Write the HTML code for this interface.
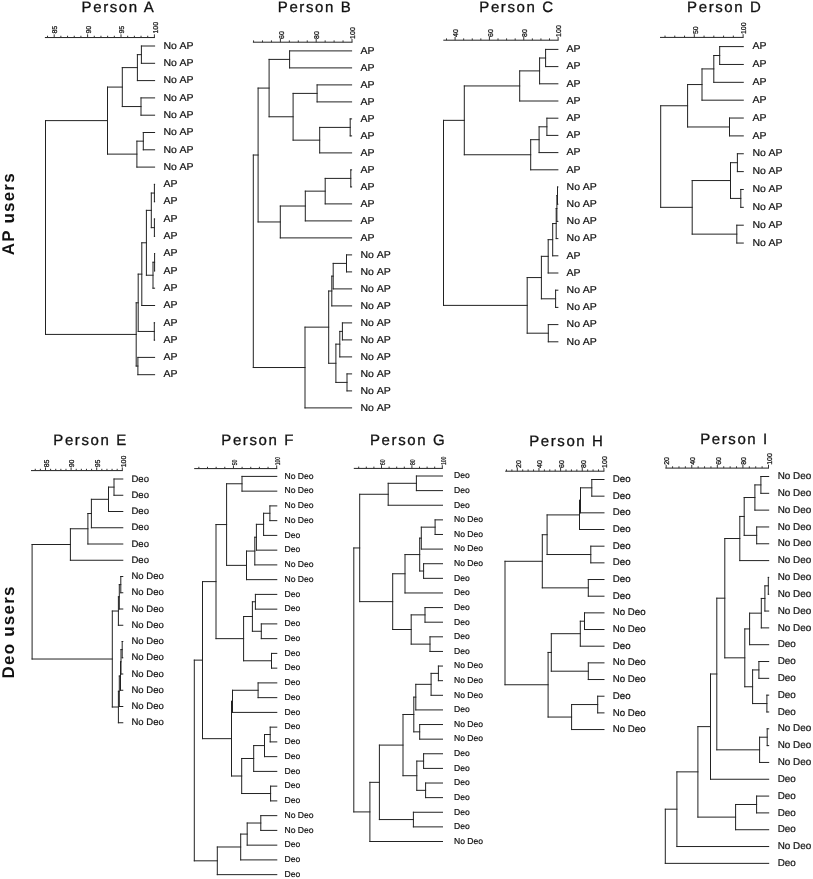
<!DOCTYPE html>
<html><head><meta charset="utf-8"><style>
html,body{margin:0;padding:0;background:#fff;}
svg{display:block;will-change:transform;}
text{font-family:"Liberation Sans",sans-serif;fill:#111;text-rendering:geometricPrecision;}
path{stroke:#222;stroke-width:1.0;fill:none;stroke-linecap:square;}
.tk{stroke:#333;stroke-linecap:butt;}
.ax text{stroke:#111;stroke-width:0.25px;}
.lab text{stroke:#111;stroke-width:0.2px;}
.tt{font-size:15px;letter-spacing:1.6px;stroke:#111;stroke-width:0.3px;}
.side{font-size:17px;font-weight:bold;letter-spacing:1.2px;}
</style></head><body>
<svg width="813" height="879" viewBox="0 0 813 879">
<rect width="813" height="879" fill="#fff"/>
<path d="M141.4 46H154.6M141.4 63.3H154.6M141.4 46V63.3M137.4 54.65H141.4M137.4 80.6H154.6M137.4 54.65V80.6M122.3 67.62H137.4M141 97.9H154.6M141 115.2H154.6M141 97.9V115.2M122.3 106.55H141M122.3 67.62V106.55M107.5 87.09H122.3M143.3 132.5H154.6M143.3 149.8H154.6M143.3 132.5V149.8M136.9 141.15H143.3M136.9 167.1H154.6M136.9 141.15V167.1M107.5 154.12H136.9M107.5 87.09V154.12M45.5 120.61H107.5M154.4 184.4H154.6M154.4 201.7H154.6M154.4 184.4V201.7M151.3 193.05H154.4M154.4 219H154.6M154.4 236.3H154.6M154.4 219V236.3M151.3 227.65H154.4M151.3 193.05V227.65M146.4 210.35H151.3M154.6 253.6V253.6M154.6 270.9V270.9M154.6 253.6V270.9M153 262.25H154.6M153 288.2H154.6M153 262.25V288.2M146.4 275.23H153M146.4 210.35V275.23M141.8 242.79H146.4M141.8 305.5H154.6M141.8 242.79V305.5M138.2 274.14H141.8M154.3 322.8H154.6M154.3 340.1H154.6M154.3 322.8V340.1M138.2 331.45H154.3M138.2 274.14V331.45M136.2 302.8H138.2M137.9 357.4H154.6M137.9 374.7H154.6M137.9 357.4V374.7M136.2 366.05H137.9M136.2 302.8V366.05M45.5 334.42H136.2M45.5 120.61V334.42M45.4 37.55H154.4"/>
<path class="tk" d="M47.52 37.55V35.75M54.2 37.55V34.35M60.88 37.55V35.75M67.56 37.55V35.75M74.24 37.55V35.75M80.92 37.55V35.75M87.6 37.55V34.35M94.28 37.55V35.75M100.96 37.55V35.75M107.64 37.55V35.75M114.32 37.55V35.75M121 37.55V34.35M127.68 37.55V35.75M134.36 37.55V35.75M141.04 37.55V35.75M147.72 37.55V35.75M154.4 37.55V34.35"/>
<g class="lab" font-size="10" word-spacing="0.4"><text transform="translate(163.4 48.7) scale(1.05 1)">No AP</text><text transform="translate(163.4 66) scale(1.05 1)">No AP</text><text transform="translate(163.4 83.3) scale(1.05 1)">No AP</text><text transform="translate(163.4 100.6) scale(1.05 1)">No AP</text><text transform="translate(163.4 117.9) scale(1.05 1)">No AP</text><text transform="translate(163.4 135.2) scale(1.05 1)">No AP</text><text transform="translate(163.4 152.5) scale(1.05 1)">No AP</text><text transform="translate(163.4 169.8) scale(1.05 1)">No AP</text><text transform="translate(163.4 187.1) scale(1.05 1)">AP</text><text transform="translate(163.4 204.4) scale(1.05 1)">AP</text><text transform="translate(163.4 221.7) scale(1.05 1)">AP</text><text transform="translate(163.4 239) scale(1.05 1)">AP</text><text transform="translate(163.4 256.3) scale(1.05 1)">AP</text><text transform="translate(163.4 273.6) scale(1.05 1)">AP</text><text transform="translate(163.4 290.9) scale(1.05 1)">AP</text><text transform="translate(163.4 308.2) scale(1.05 1)">AP</text><text transform="translate(163.4 325.5) scale(1.05 1)">AP</text><text transform="translate(163.4 342.8) scale(1.05 1)">AP</text><text transform="translate(163.4 360.1) scale(1.05 1)">AP</text><text transform="translate(163.4 377.4) scale(1.05 1)">AP</text></g>
<g class="ax" font-size="7"><text transform="translate(57.46 33.55) rotate(-90) scale(1 1)" x="0" y="0">85</text><text transform="translate(90.86 33.55) rotate(-90) scale(1 1)" x="0" y="0">90</text><text transform="translate(124.26 33.55) rotate(-90) scale(1 1)" x="0" y="0">95</text><text transform="translate(157.66 33.55) rotate(-90) scale(1 1)" x="0" y="0">100</text></g>
<text class="tt" x="81.6" y="12.4">Person A</text>
<path d="M289.6 50.9H351.6M289.6 67.9H351.6M289.6 50.9V67.9M269.1 59.4H289.6M317.1 84.9H351.6M317.1 101.9H351.6M317.1 84.9V101.9M293.1 93.4H317.1M350.2 118.9H351.6M350.2 135.9H351.6M350.2 118.9V135.9M319.7 127.4H350.2M319.7 152.9H351.6M319.7 127.4V152.9M293.1 140.15H319.7M293.1 93.4V140.15M269.1 116.78H293.1M269.1 59.4V116.78M258.1 88.09H269.1M350.8 169.9H351.6M350.8 186.9H351.6M350.8 169.9V186.9M325.2 178.4H350.8M325.2 203.9H351.6M325.2 178.4V203.9M305.3 191.15H325.2M305.3 220.9H351.6M305.3 191.15V220.9M280.3 206.03H305.3M280.3 237.9H351.6M280.3 206.03V237.9M258.1 221.96H280.3M258.1 88.09V221.96M253.3 155.03H258.1M346.5 254.9H351.6M346.5 271.9H351.6M346.5 254.9V271.9M333.2 263.4H346.5M333.2 288.9H351.6M333.2 263.4V288.9M331.8 276.15H333.2M331.8 305.9H351.6M331.8 276.15V305.9M328.7 291.02H331.8M342.4 322.9H351.6M342.4 339.9H351.6M342.4 322.9V339.9M339.8 331.4H342.4M339.8 356.9H351.6M339.8 331.4V356.9M335.9 344.15H339.8M347 373.9H351.6M347 390.9H351.6M347 373.9V390.9M335.9 382.4H347M335.9 344.15V382.4M328.7 363.27H335.9M328.7 291.02V363.27M305 327.15H328.7M305 407.9H351.6M305 327.15V407.9M253.3 367.52H305M253.3 155.03V367.52M253.4 42.2H352"/>
<path class="tk" d="M253.55 42.2V40.4M262.5 42.2V40.4M271.45 42.2V40.4M280.4 42.2V39M289.35 42.2V40.4M298.3 42.2V40.4M307.25 42.2V40.4M316.2 42.2V39M325.15 42.2V40.4M334.1 42.2V40.4M343.05 42.2V40.4M352 42.2V39"/>
<g class="lab" font-size="10" word-spacing="0.4"><text transform="translate(360.5 53.6) scale(1.05 1)">AP</text><text transform="translate(360.5 70.6) scale(1.05 1)">AP</text><text transform="translate(360.5 87.6) scale(1.05 1)">AP</text><text transform="translate(360.5 104.6) scale(1.05 1)">AP</text><text transform="translate(360.5 121.6) scale(1.05 1)">AP</text><text transform="translate(360.5 138.6) scale(1.05 1)">AP</text><text transform="translate(360.5 155.6) scale(1.05 1)">AP</text><text transform="translate(360.5 172.6) scale(1.05 1)">AP</text><text transform="translate(360.5 189.6) scale(1.05 1)">AP</text><text transform="translate(360.5 206.6) scale(1.05 1)">AP</text><text transform="translate(360.5 223.6) scale(1.05 1)">AP</text><text transform="translate(360.5 240.6) scale(1.05 1)">AP</text><text transform="translate(360.5 257.6) scale(1.05 1)">No AP</text><text transform="translate(360.5 274.6) scale(1.05 1)">No AP</text><text transform="translate(360.5 291.6) scale(1.05 1)">No AP</text><text transform="translate(360.5 308.6) scale(1.05 1)">No AP</text><text transform="translate(360.5 325.6) scale(1.05 1)">No AP</text><text transform="translate(360.5 342.6) scale(1.05 1)">No AP</text><text transform="translate(360.5 359.6) scale(1.05 1)">No AP</text><text transform="translate(360.5 376.6) scale(1.05 1)">No AP</text><text transform="translate(360.5 393.6) scale(1.05 1)">No AP</text><text transform="translate(360.5 410.6) scale(1.05 1)">No AP</text></g>
<g class="ax" font-size="7"><text transform="translate(283.66 38.9) rotate(-90) scale(1 1)" x="0" y="0">60</text><text transform="translate(319.46 38.9) rotate(-90) scale(1 1)" x="0" y="0">80</text><text transform="translate(355.26 38.9) rotate(-90) scale(1 1)" x="0" y="0">100</text></g>
<text class="tt" x="277.8" y="12.4">Person B</text>
<path d="M545.6 49.4H557.9M545.6 66.6H557.9M545.6 49.4V66.6M539.6 58H545.6M539.6 83.8H557.9M539.6 58V83.8M519.7 70.9H539.6M519.7 101H557.9M519.7 70.9V101M464.3 85.95H519.7M546.9 118.2H557.9M546.9 135.4H557.9M546.9 118.2V135.4M539.1 126.8H546.9M539.1 152.6H557.9M539.1 126.8V152.6M530.7 139.7H539.1M530.7 169.8H557.9M530.7 139.7V169.8M464.3 154.75H530.7M464.3 85.95V154.75M443.5 120.35H464.3M557.5 187H557.9M557.5 204.2H557.9M557.5 187V204.2M556.9 195.6H557.5M556.9 221.4H557.9M556.9 195.6V221.4M556.2 208.5H556.9M556.2 238.6H557.9M556.2 208.5V238.6M552.7 223.55H556.2M552.7 255.8H557.9M552.7 223.55V255.8M548.2 239.68H552.7M548.2 273H557.9M548.2 239.68V273M541.4 256.34H548.2M555.6 290.2H557.9M555.6 307.4H557.9M555.6 290.2V307.4M541.4 298.8H555.6M541.4 256.34V298.8M527.2 277.57H541.4M548.3 324.6H557.9M548.3 341.8H557.9M548.3 324.6V341.8M527.2 333.2H548.3M527.2 277.57V333.2M443.5 305.38H527.2M443.5 120.35V305.38M443.8 40.2H558.1"/>
<path class="tk" d="M446.5 40.2V38.4M455.08 40.2V37M463.67 40.2V38.4M472.25 40.2V38.4M480.84 40.2V38.4M489.42 40.2V37M498 40.2V38.4M506.59 40.2V38.4M515.18 40.2V38.4M523.76 40.2V37M532.35 40.2V38.4M540.93 40.2V38.4M549.51 40.2V38.4M558.1 40.2V37"/>
<g class="lab" font-size="10" word-spacing="0.4"><text transform="translate(566.6 52.1) scale(1.05 1)">AP</text><text transform="translate(566.6 69.3) scale(1.05 1)">AP</text><text transform="translate(566.6 86.5) scale(1.05 1)">AP</text><text transform="translate(566.6 103.7) scale(1.05 1)">AP</text><text transform="translate(566.6 120.9) scale(1.05 1)">AP</text><text transform="translate(566.6 138.1) scale(1.05 1)">AP</text><text transform="translate(566.6 155.3) scale(1.05 1)">AP</text><text transform="translate(566.6 172.5) scale(1.05 1)">AP</text><text transform="translate(566.6 189.7) scale(1.05 1)">No AP</text><text transform="translate(566.6 206.9) scale(1.05 1)">No AP</text><text transform="translate(566.6 224.1) scale(1.05 1)">No AP</text><text transform="translate(566.6 241.3) scale(1.05 1)">No AP</text><text transform="translate(566.6 258.5) scale(1.05 1)">AP</text><text transform="translate(566.6 275.7) scale(1.05 1)">AP</text><text transform="translate(566.6 292.9) scale(1.05 1)">No AP</text><text transform="translate(566.6 310.1) scale(1.05 1)">No AP</text><text transform="translate(566.6 327.3) scale(1.05 1)">No AP</text><text transform="translate(566.6 344.5) scale(1.05 1)">No AP</text></g>
<g class="ax" font-size="7"><text transform="translate(458.34 36.9) rotate(-90) scale(1 1)" x="0" y="0">40</text><text transform="translate(492.68 36.9) rotate(-90) scale(1 1)" x="0" y="0">60</text><text transform="translate(527.02 36.9) rotate(-90) scale(1 1)" x="0" y="0">80</text><text transform="translate(561.36 36.9) rotate(-90) scale(1 1)" x="0" y="0">100</text></g>
<text class="tt" x="479.3" y="12.4">Person C</text>
<path d="M719.7 46.6H743.3M719.7 64.46H743.3M719.7 46.6V64.46M713.8 55.53H719.7M713.8 82.32H743.3M713.8 55.53V82.32M702 68.92H713.8M702 100.18H743.3M702 68.92V100.18M687.6 84.55H702M729.5 118.04H743.3M729.5 135.9H743.3M729.5 118.04V135.9M687.6 126.97H729.5M687.6 84.55V126.97M660.7 105.76H687.6M737.4 153.76H743.3M737.4 171.62H743.3M737.4 153.76V171.62M730.5 162.69H737.4M740.8 189.48H743.3M740.8 207.34H743.3M740.8 189.48V207.34M730.5 198.41H740.8M730.5 162.69V198.41M692.2 180.55H730.5M736.8 225.2H743.3M736.8 243.06H743.3M736.8 225.2V243.06M692.2 234.13H736.8M692.2 180.55V234.13M660.7 207.34H692.2M660.7 105.76V207.34M660.5 37.4H743.1"/>
<path class="tk" d="M665.02 37.4V35.6M674.78 37.4V35.6M684.54 37.4V35.6M694.3 37.4V34.2M704.06 37.4V35.6M713.82 37.4V35.6M723.58 37.4V35.6M733.34 37.4V35.6M743.1 37.4V34.2"/>
<g class="lab" font-size="10" word-spacing="0.4"><text transform="translate(752.4 49.3) scale(1.05 1)">AP</text><text transform="translate(752.4 67.16) scale(1.05 1)">AP</text><text transform="translate(752.4 85.02) scale(1.05 1)">AP</text><text transform="translate(752.4 102.88) scale(1.05 1)">AP</text><text transform="translate(752.4 120.74) scale(1.05 1)">AP</text><text transform="translate(752.4 138.6) scale(1.05 1)">AP</text><text transform="translate(752.4 156.46) scale(1.05 1)">No AP</text><text transform="translate(752.4 174.32) scale(1.05 1)">No AP</text><text transform="translate(752.4 192.18) scale(1.05 1)">No AP</text><text transform="translate(752.4 210.04) scale(1.05 1)">No AP</text><text transform="translate(752.4 227.9) scale(1.05 1)">No AP</text><text transform="translate(752.4 245.76) scale(1.05 1)">No AP</text></g>
<g class="ax" font-size="7"><text transform="translate(697.56 34.1) rotate(-90) scale(1 1)" x="0" y="0">50</text><text transform="translate(746.36 34.1) rotate(-90) scale(1 1)" x="0" y="0">100</text></g>
<text class="tt" x="687.1" y="12.4">Person D</text>
<path d="M114 479H122.8M114 495.25H122.8M114 479V495.25M108.5 487.12H114M108.5 511.5H122.8M108.5 487.12V511.5M91.4 499.31H108.5M91.4 527.75H122.8M91.4 499.31V527.75M87.9 513.53H91.4M87.9 544H122.8M87.9 513.53V544M70.4 528.77H87.9M70.4 560.25H122.8M70.4 528.77V560.25M32.1 544.51H70.4M120.8 576.5H122.8M120.8 592.75H122.8M120.8 576.5V592.75M119.3 584.62H120.8M119.3 609H122.8M119.3 584.62V609M118.4 596.81H119.3M118.4 625.25H122.8M118.4 596.81V625.25M112.3 611.03H118.4M122.2 641.5H122.8M122.2 657.75H122.8M122.2 641.5V657.75M121 649.62H122.2M121 674H122.8M121 649.62V674M120.5 661.81H121M120.5 690.25H122.8M120.5 661.81V690.25M119.3 676.03H120.5M119.3 706.5H122.8M119.3 676.03V706.5M118.4 691.27H119.3M118.4 722.75H122.8M118.4 691.27V722.75M112.3 707.01H118.4M112.3 611.03V707.01M32.1 659.02H112.3M32.1 544.51V659.02M31.5 470.6H122.3"/>
<path class="tk" d="M35.26 470.6V468.8M40.38 470.6V468.8M45.5 470.6V467.4M50.62 470.6V468.8M55.74 470.6V468.8M60.86 470.6V468.8M65.98 470.6V468.8M71.1 470.6V467.4M76.22 470.6V468.8M81.34 470.6V468.8M86.46 470.6V468.8M91.58 470.6V468.8M96.7 470.6V467.4M101.82 470.6V468.8M106.94 470.6V468.8M112.06 470.6V468.8M117.18 470.6V468.8M122.3 470.6V467.4"/>
<g class="lab" font-size="9.5" word-spacing="0"><text x="131.5" y="481.56">Deo</text><text x="131.5" y="497.81">Deo</text><text x="131.5" y="514.07">Deo</text><text x="131.5" y="530.32">Deo</text><text x="131.5" y="546.57">Deo</text><text x="131.5" y="562.82">Deo</text><text x="131.5" y="579.07">No Deo</text><text x="131.5" y="595.32">No Deo</text><text x="131.5" y="611.57">No Deo</text><text x="131.5" y="627.82">No Deo</text><text x="131.5" y="644.07">No Deo</text><text x="131.5" y="660.32">No Deo</text><text x="131.5" y="676.57">No Deo</text><text x="131.5" y="692.82">No Deo</text><text x="131.5" y="709.07">No Deo</text><text x="131.5" y="725.32">No Deo</text></g>
<g class="ax" font-size="7"><text transform="translate(48.76 467.3) rotate(-90) scale(1 1)" x="0" y="0">85</text><text transform="translate(74.36 467.3) rotate(-90) scale(1 1)" x="0" y="0">90</text><text transform="translate(99.96 467.3) rotate(-90) scale(1 1)" x="0" y="0">95</text><text transform="translate(125.56 467.3) rotate(-90) scale(1 1)" x="0" y="0">100</text></g>
<text class="tt" x="53.3" y="444.8">Person E</text>
<path d="M242 476.4H276.8M242 491.15H276.8M242 476.4V491.15M226.6 483.77H242M269.9 505.9H276.8M269.9 520.65H276.8M269.9 505.9V520.65M263.6 513.27H269.9M263.6 535.4H276.8M263.6 513.27V535.4M256.4 524.34H263.6M256.4 550.15H276.8M256.4 524.34V550.15M254.8 537.24H256.4M254.8 564.9H276.8M254.8 537.24V564.9M246.5 551.07H254.8M246.5 579.65H276.8M246.5 551.07V579.65M226.6 565.36H246.5M226.6 483.77V565.36M216 524.57H226.6M255.4 594.4H276.8M255.4 609.15H276.8M255.4 594.4V609.15M252.4 601.77H255.4M261.3 623.9H276.8M261.3 638.65H276.8M261.3 623.9V638.65M252.4 631.27H261.3M252.4 601.77V631.27M243.6 616.52H252.4M271.5 653.4H276.8M271.5 668.15H276.8M271.5 653.4V668.15M243.6 660.77H271.5M243.6 616.52V660.77M216 638.65H243.6M216 524.57V638.65M202.5 581.61H216M258.1 682.9H276.8M258.1 697.65H276.8M258.1 682.9V697.65M232.5 690.27H258.1M232.5 712.4H276.8M232.5 690.27V712.4M231.5 701.34H232.5M270.2 727.15H276.8M270.2 741.9H276.8M270.2 727.15V741.9M264.5 734.52H270.2M264.5 756.65H276.8M264.5 734.52V756.65M253.7 745.59H264.5M253.7 771.4H276.8M253.7 745.59V771.4M241.7 758.49H253.7M270.6 786.15H276.8M270.6 800.9H276.8M270.6 786.15V800.9M241.7 793.52H270.6M241.7 758.49V793.52M231.5 776.01H241.7M231.5 701.34V776.01M202.5 738.67H231.5M202.5 581.61V738.67M194.3 660.14H202.5M260.8 815.65H276.8M260.8 830.4H276.8M260.8 815.65V830.4M247.2 823.02H260.8M247.2 845.15H276.8M247.2 823.02V845.15M240.7 834.09H247.2M240.7 859.9H276.8M240.7 834.09V859.9M217.3 846.99H240.7M217.3 874.65H276.8M217.3 846.99V874.65M194.3 860.82H217.3M194.3 660.14V860.82M194.7 468.6H276.7"/>
<path class="tk" d="M198.85 468.6V466.8M207.5 468.6V466.8M216.15 468.6V466.8M224.8 468.6V466.8M233.45 468.6V465.4M242.1 468.6V466.8M250.75 468.6V466.8M259.4 468.6V466.8M268.05 468.6V466.8M276.7 468.6V465.4"/>
<g class="lab" font-size="8.6" word-spacing="0"><text x="284.5" y="478.72">No Deo</text><text x="284.5" y="493.47">No Deo</text><text x="284.5" y="508.22">No Deo</text><text x="284.5" y="522.97">No Deo</text><text x="284.5" y="537.72">Deo</text><text x="284.5" y="552.47">Deo</text><text x="284.5" y="567.22">No Deo</text><text x="284.5" y="581.97">No Deo</text><text x="284.5" y="596.72">Deo</text><text x="284.5" y="611.47">Deo</text><text x="284.5" y="626.22">Deo</text><text x="284.5" y="640.97">Deo</text><text x="284.5" y="655.72">Deo</text><text x="284.5" y="670.47">Deo</text><text x="284.5" y="685.22">Deo</text><text x="284.5" y="699.97">Deo</text><text x="284.5" y="714.72">Deo</text><text x="284.5" y="729.47">Deo</text><text x="284.5" y="744.22">Deo</text><text x="284.5" y="758.97">Deo</text><text x="284.5" y="773.72">Deo</text><text x="284.5" y="788.47">Deo</text><text x="284.5" y="803.22">Deo</text><text x="284.5" y="817.97">No Deo</text><text x="284.5" y="832.72">No Deo</text><text x="284.5" y="847.47">Deo</text><text x="284.5" y="862.22">Deo</text><text x="284.5" y="876.97">Deo</text></g>
<g class="ax" font-size="7"><text transform="translate(236.71 465.3) rotate(-90) scale(0.72 1)" x="0" y="0">50</text><text transform="translate(279.96 465.3) rotate(-90) scale(0.72 1)" x="0" y="0">100</text></g>
<text class="tt" x="221.3" y="444.6">Person F</text>
<path d="M416.4 476H442.5M416.4 490.62H442.5M416.4 476V490.62M388.2 483.31H416.4M388.2 505.24H442.5M388.2 483.31V505.24M359.7 494.27H388.2M435.1 519.86H442.5M435.1 534.48H442.5M435.1 519.86V534.48M421.3 527.17H435.1M421.3 549.1H442.5M421.3 527.17V549.1M419.7 538.13H421.3M423.6 563.72H442.5M423.6 578.34H442.5M423.6 563.72V578.34M419.7 571.03H423.6M419.7 538.13V571.03M405 554.58H419.7M405 592.96H442.5M405 554.58V592.96M392.7 573.77H405M425 607.58H442.5M425 622.2H442.5M425 607.58V622.2M411.2 614.89H425M430 636.82H442.5M430 651.44H442.5M430 636.82V651.44M411.2 644.13H430M411.2 614.89V644.13M392.7 629.51H411.2M392.7 573.77V629.51M359.7 601.64H392.7M359.7 494.27V601.64M353.8 547.96H359.7M438.4 666.06H442.5M438.4 680.68H442.5M438.4 666.06V680.68M431.1 673.37H438.4M431.1 695.3H442.5M431.1 673.37V695.3M415.8 684.33H431.1M415.8 709.92H442.5M415.8 684.33V709.92M413.8 697.13H415.8M419.7 724.54H442.5M419.7 739.16H442.5M419.7 724.54V739.16M413.8 731.85H419.7M413.8 697.13V731.85M403 714.49H413.8M423.6 753.78H442.5M423.6 768.4H442.5M423.6 753.78V768.4M416.8 761.09H423.6M425.6 783.02H442.5M425.6 797.64H442.5M425.6 783.02V797.64M416.8 790.33H425.6M416.8 761.09V790.33M403 775.71H416.8M403 714.49V775.71M379.4 745.1H403M413.4 812.26H442.5M413.4 826.88H442.5M413.4 812.26V826.88M379.4 819.57H413.4M379.4 745.1V819.57M369.9 782.33H379.4M369.9 841.5H442.5M369.9 782.33V841.5M353.8 811.92H369.9M353.8 547.96V811.92M354.3 468.4H442.3"/>
<path class="tk" d="M358.7 468.4V466.6M366.3 468.4V466.6M373.9 468.4V466.6M381.5 468.4V465.2M389.1 468.4V466.6M396.7 468.4V466.6M404.3 468.4V466.6M411.9 468.4V465.2M419.5 468.4V466.6M427.1 468.4V466.6M434.7 468.4V466.6M442.3 468.4V465.2"/>
<g class="lab" font-size="8.6" word-spacing="0"><text x="454" y="478.32">Deo</text><text x="454" y="492.94">Deo</text><text x="454" y="507.56">Deo</text><text x="454" y="522.18">No Deo</text><text x="454" y="536.8">No Deo</text><text x="454" y="551.42">No Deo</text><text x="454" y="566.04">No Deo</text><text x="454" y="580.66">Deo</text><text x="454" y="595.28">Deo</text><text x="454" y="609.9">Deo</text><text x="454" y="624.52">Deo</text><text x="454" y="639.14">Deo</text><text x="454" y="653.76">Deo</text><text x="454" y="668.38">No Deo</text><text x="454" y="683">No Deo</text><text x="454" y="697.62">No Deo</text><text x="454" y="712.24">Deo</text><text x="454" y="726.86">No Deo</text><text x="454" y="741.48">No Deo</text><text x="454" y="756.1">Deo</text><text x="454" y="770.72">Deo</text><text x="454" y="785.34">Deo</text><text x="454" y="799.96">Deo</text><text x="454" y="814.58">Deo</text><text x="454" y="829.2">Deo</text><text x="454" y="843.82">No Deo</text></g>
<g class="ax" font-size="7"><text transform="translate(384.76 465.1) rotate(-90) scale(0.72 1)" x="0" y="0">60</text><text transform="translate(415.16 465.1) rotate(-90) scale(0.72 1)" x="0" y="0">80</text><text transform="translate(445.56 465.1) rotate(-90) scale(0.72 1)" x="0" y="0">100</text></g>
<text class="tt" x="370" y="444.6">Person G</text>
<path d="M591.8 479.5H604M591.8 496.17H604M591.8 479.5V496.17M580.5 487.84H591.8M580.5 512.84H604M580.5 487.84V512.84M579.5 500.34H580.5M579.5 529.51H604M579.5 500.34V529.51M547.1 514.92H579.5M590.8 546.18H604M590.8 562.85H604M590.8 546.18V562.85M547.1 554.52H590.8M547.1 514.92V554.52M542.3 534.72H547.1M588.3 579.52H604M588.3 596.19H604M588.3 579.52V596.19M542.3 587.86H588.3M542.3 534.72V587.86M505 561.29H542.3M584.5 612.86H604M584.5 629.53H604M584.5 612.86V629.53M580.3 621.19H584.5M580.3 646.2H604M580.3 621.19V646.2M551.3 633.7H580.3M588.3 662.87H604M588.3 679.54H604M588.3 662.87V679.54M551.3 671.2H588.3M551.3 633.7V671.2M548.1 652.45H551.3M597.7 696.21H604M597.7 712.88H604M597.7 696.21V712.88M571.6 704.55H597.7M571.6 729.55H604M571.6 704.55V729.55M548.1 717.05H571.6M548.1 652.45V717.05M505 684.75H548.1M505 561.29V684.75M505.7 471.2H603.9"/>
<path class="tk" d="M506.47 471.2V469.4M511.89 471.2V469.4M517.3 471.2V468M522.71 471.2V469.4M528.12 471.2V469.4M533.54 471.2V469.4M538.95 471.2V468M544.36 471.2V469.4M549.77 471.2V469.4M555.19 471.2V469.4M560.6 471.2V468M566.01 471.2V469.4M571.42 471.2V469.4M576.84 471.2V469.4M582.25 471.2V468M587.66 471.2V469.4M593.07 471.2V469.4M598.49 471.2V469.4M603.9 471.2V468"/>
<g class="lab" font-size="9.7" word-spacing="0"><text x="612.8" y="482.12">Deo</text><text x="612.8" y="498.79">Deo</text><text x="612.8" y="515.46">Deo</text><text x="612.8" y="532.13">Deo</text><text x="612.8" y="548.8">Deo</text><text x="612.8" y="565.47">Deo</text><text x="612.8" y="582.14">Deo</text><text x="612.8" y="598.81">Deo</text><text x="612.8" y="615.48">No Deo</text><text x="612.8" y="632.15">No Deo</text><text x="612.8" y="648.82">Deo</text><text x="612.8" y="665.49">No Deo</text><text x="612.8" y="682.16">No Deo</text><text x="612.8" y="698.83">Deo</text><text x="612.8" y="715.5">No Deo</text><text x="612.8" y="732.17">No Deo</text></g>
<g class="ax" font-size="7"><text transform="translate(520.56 467.9) rotate(-90) scale(1 1)" x="0" y="0">20</text><text transform="translate(542.21 467.9) rotate(-90) scale(1 1)" x="0" y="0">40</text><text transform="translate(563.86 467.9) rotate(-90) scale(1 1)" x="0" y="0">60</text><text transform="translate(585.51 467.9) rotate(-90) scale(1 1)" x="0" y="0">80</text><text transform="translate(607.16 467.9) rotate(-90) scale(1 1)" x="0" y="0">100</text></g>
<text class="tt" x="529.2" y="445.6">Person H</text>
<path d="M760.9 476.5H768.7M760.9 493.32H768.7M760.9 476.5V493.32M754.9 484.91H760.9M754.9 510.14H768.7M754.9 484.91V510.14M744.2 497.52H754.9M756.7 526.96H768.7M756.7 543.78H768.7M756.7 526.96V543.78M744.2 535.37H756.7M744.2 497.52V535.37M739.8 516.45H744.2M739.8 560.6H768.7M739.8 516.45V560.6M724.8 538.52H739.8M768.3 577.42H768.7M768.3 594.24H768.7M768.3 577.42V594.24M764.9 585.83H768.3M764.9 611.06H768.7M764.9 585.83V611.06M761.3 598.44H764.9M761.3 627.88H768.7M761.3 598.44V627.88M749.6 613.16H761.3M749.6 644.7H768.7M749.6 613.16V644.7M744.8 628.93H749.6M758.9 661.52H768.7M758.9 678.34H768.7M758.9 661.52V678.34M752.6 669.93H758.9M766.9 695.16H768.7M766.9 711.98H768.7M766.9 695.16V711.98M752.6 703.57H766.9M752.6 669.93V703.57M744.8 686.75H752.6M744.8 628.93V686.75M724.8 657.84H744.8M724.8 538.52V657.84M716.8 598.18H724.8M767.2 728.8H768.7M767.2 745.62H768.7M767.2 728.8V745.62M759.6 737.21H767.2M759.6 762.44H768.7M759.6 737.21V762.44M716.8 749.83H759.6M716.8 598.18V749.83M710.5 674H716.8M710.5 779.26H768.7M710.5 674V779.26M697.9 726.63H710.5M756.6 796.08H768.7M756.6 812.9H768.7M756.6 796.08V812.9M735.6 804.49H756.6M735.6 829.72H768.7M735.6 804.49V829.72M697.9 817.11H735.6M697.9 726.63V817.11M676.9 771.87H697.9M676.9 846.54H768.7M676.9 771.87V846.54M665.3 809.2H676.9M665.3 863.36H768.7M665.3 809.2V863.36M665.8 468.1H768.5"/>
<path class="tk" d="M666.18 468.1V464.9M672.58 468.1V466.3M678.97 468.1V466.3M685.37 468.1V466.3M691.76 468.1V464.9M698.15 468.1V466.3M704.55 468.1V466.3M710.95 468.1V466.3M717.34 468.1V464.9M723.74 468.1V466.3M730.13 468.1V466.3M736.52 468.1V466.3M742.92 468.1V464.9M749.32 468.1V466.3M755.71 468.1V466.3M762.11 468.1V466.3M768.5 468.1V464.9"/>
<g class="lab" font-size="9.9" word-spacing="0"><text x="777.7" y="479.17">No Deo</text><text x="777.7" y="495.99">No Deo</text><text x="777.7" y="512.81">No Deo</text><text x="777.7" y="529.63">No Deo</text><text x="777.7" y="546.45">No Deo</text><text x="777.7" y="563.27">No Deo</text><text x="777.7" y="580.09">No Deo</text><text x="777.7" y="596.91">No Deo</text><text x="777.7" y="613.73">No Deo</text><text x="777.7" y="630.55">No Deo</text><text x="777.7" y="647.37">Deo</text><text x="777.7" y="664.19">Deo</text><text x="777.7" y="681.01">Deo</text><text x="777.7" y="697.83">Deo</text><text x="777.7" y="714.65">Deo</text><text x="777.7" y="731.47">No Deo</text><text x="777.7" y="748.29">No Deo</text><text x="777.7" y="765.11">No Deo</text><text x="777.7" y="781.93">Deo</text><text x="777.7" y="798.75">Deo</text><text x="777.7" y="815.57">Deo</text><text x="777.7" y="832.39">Deo</text><text x="777.7" y="849.21">No Deo</text><text x="777.7" y="866.03">Deo</text></g>
<g class="ax" font-size="7"><text transform="translate(669.44 464.8) rotate(-90) scale(1 1)" x="0" y="0">20</text><text transform="translate(695.02 464.8) rotate(-90) scale(1 1)" x="0" y="0">40</text><text transform="translate(720.6 464.8) rotate(-90) scale(1 1)" x="0" y="0">60</text><text transform="translate(746.18 464.8) rotate(-90) scale(1 1)" x="0" y="0">80</text><text transform="translate(771.76 464.8) rotate(-90) scale(1 1)" x="0" y="0">100</text></g>
<text class="tt" x="700.2" y="444.1">Person I</text>
<text class="side" transform="translate(14.2 255.2) rotate(-90)">AP users</text>
<text class="side" transform="translate(14.2 678.4) rotate(-90)">Deo users</text>
</svg>
</body></html>
